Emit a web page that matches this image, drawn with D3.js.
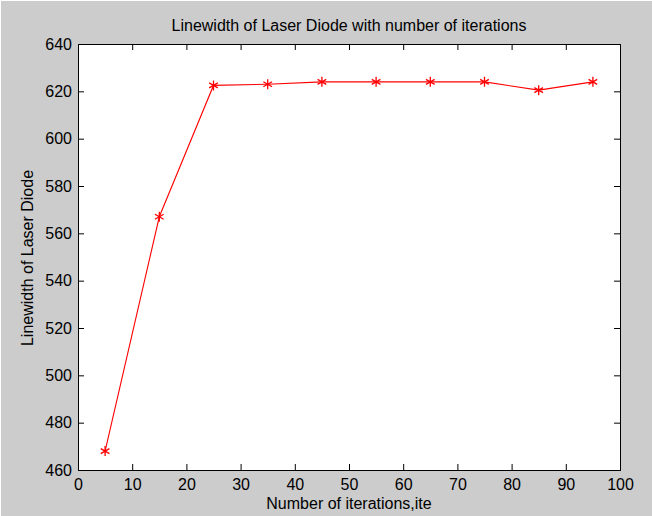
<!DOCTYPE html>
<html>
<head>
<meta charset="utf-8">
<script src="https://cdn.jsdelivr.net/npm/d3@7"></script>
<style>
  body { margin: 0; background: #fff; }
  text { font-family: "Liberation Sans", Arial, sans-serif; }
</style>
</head>
<body>
<div id="chart"></div>
<script>
// data
const iterations = [5, 15, 25, 35, 45, 55, 65, 75, 85, 95];
const linewidth = [468, 567, 622.5, 623, 624, 624, 624, 624, 620.5, 624];
const xTicks = [0, 10, 20, 30, 40, 50, 60, 70, 80, 90, 100];
const yTicks = [460, 480, 500, 520, 540, 560, 580, 600, 620, 640];

const width = 652, height = 516;
const margin = {top: 44, right: 32, bottom: 46, left: 78};
const fontSize = "16px";

const svg = d3.select("#chart").append("svg")
  .attr("width", width)
  .attr("height", height);

// grey figure background (thin white edge top/left like the screenshot)
svg.append("rect").attr("x", 1).attr("y", 1)
  .attr("width", width - 1).attr("height", height - 1)
  .attr("fill", "#cccccc");

const x = d3.scaleLinear().domain([0, 100]).range([margin.left, width - margin.right]);
const y = d3.scaleLinear().domain([460, 640]).range([height - margin.bottom, margin.top]);

// white axes box
svg.append("rect")
  .attr("x", x(0)).attr("y", y(640))
  .attr("width", x(100) - x(0)).attr("height", y(460) - y(640))
  .attr("fill", "#fff");

const tickLen = 6;

// matlab style: ticks point inward, also on top and right
const xBottom = svg.append("g").attr("transform", `translate(0,${y(460)})`)
  .call(d3.axisBottom(x).tickValues(xTicks).tickSize(-tickLen).tickPadding(9));
const xTop = svg.append("g").attr("transform", `translate(0,${y(640)})`)
  .call(d3.axisTop(x).tickValues(xTicks).tickSize(-tickLen).tickFormat(""));
const yLeft = svg.append("g").attr("transform", `translate(${x(0)},0)`)
  .call(d3.axisLeft(y).tickValues(yTicks).tickSize(-tickLen).tickPadding(6));
const yRight = svg.append("g").attr("transform", `translate(${x(100)},0)`)
  .call(d3.axisRight(y).tickValues(yTicks).tickSize(-tickLen).tickFormat(""));

[xBottom, xTop, yLeft, yRight].forEach(function(g){
  g.select(".domain").attr("stroke", "#000").attr("stroke-width", 1);
  g.selectAll(".tick line").attr("stroke", "#000");
  g.selectAll(".tick text").attr("fill", "#000").style("font-size", fontSize)
    .style("font-family", "'Liberation Sans', Arial, sans-serif");
});
// hide the end ticks that sit on the frame
xBottom.selectAll(".tick").filter(d => d === 0 || d === 100).select("line").remove();
xTop.selectAll(".tick").filter(d => d === 0 || d === 100).select("line").remove();
yLeft.selectAll(".tick").filter(d => d === 460 || d === 640).select("line").remove();
yRight.selectAll(".tick").filter(d => d === 460 || d === 640).select("line").remove();

// the line
const line = d3.line()
  .x((d, i) => x(iterations[i]))
  .y(d => y(d));

svg.append("path")
  .datum(linewidth)
  .attr("d", line)
  .attr("fill", "none")
  .attr("stroke", "#ff0000")
  .attr("stroke-width", 1.1);

// asterisk markers
const star = d3.symbol().type(d3.symbolAsterisk).size(70);
svg.selectAll(".mark")
  .data(linewidth)
  .enter()
  .append("path")
    .attr("class", "mark")
    .attr("d", star)
    .attr("transform", (d, i) => `translate(${x(iterations[i])},${y(d)})`)
    .attr("fill", "none")
    .attr("stroke", "#ff0000")
    .attr("stroke-width", 1.3);

// labels
svg.append("text")
  .attr("x", (x(0) + x(100)) / 2).attr("y", 31)
  .attr("text-anchor", "middle")
  .style("font-size", fontSize)
  .text("Linewidth of Laser Diode with number of iterations");

svg.append("text")
  .attr("x", (x(0) + x(100)) / 2).attr("y", 509)
  .attr("text-anchor", "middle")
  .style("font-size", fontSize)
  .text("Number of iterations,ite");

svg.append("text")
  .attr("transform", `translate(33,${(y(460) + y(640)) / 2 + 1}) rotate(-90)`)
  .attr("text-anchor", "middle")
  .style("font-size", fontSize)
  .text("Linewidth of Laser Diode");
</script>
</body>
</html>
